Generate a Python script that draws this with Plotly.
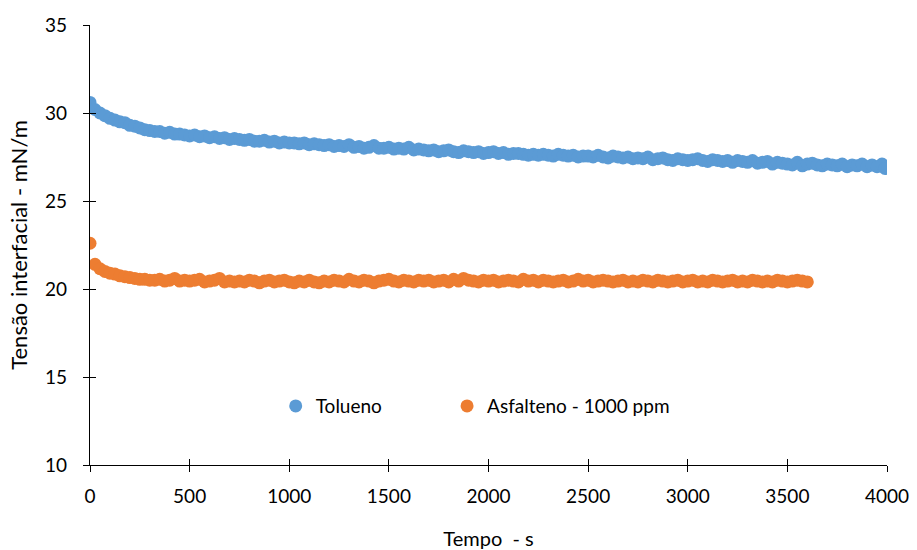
import plotly.graph_objects as go

# Sampling instants (s) – the instrument logs one reading every 25 s
t_tolueno = list(range(0, 4000, 25)) + [3990]
t_asfalteno = list(range(0, 3601, 25))

# Interfacial tension (mN/m) – pure toluene
ift_tolueno = [
    30.6, 30.2, 30.0, 29.85, 29.7, 29.6, 29.5, 29.45, 29.3, 29.25,
    29.15, 29.05, 29.0, 28.95, 28.95, 28.85, 28.9, 28.8, 28.8, 28.75,
    28.7, 28.75, 28.65, 28.7, 28.6, 28.65, 28.55, 28.6, 28.5, 28.55,
    28.5, 28.45, 28.5, 28.4, 28.4, 28.45, 28.35, 28.4, 28.3, 28.35,
    28.3, 28.3, 28.25, 28.3, 28.2, 28.25, 28.2, 28.15, 28.2, 28.1,
    28.15, 28.1, 28.2, 28.05, 28.1, 28.0, 28.05, 28.15, 28.0, 28.0,
    28.05, 27.95, 28.0, 27.95, 28.05, 27.9, 27.95, 27.9, 27.85, 27.9,
    27.8, 27.85, 27.9, 27.8, 27.75, 27.85, 27.8, 27.75, 27.8, 27.7,
    27.75, 27.8, 27.7, 27.75, 27.65, 27.7, 27.7, 27.65, 27.6, 27.65,
    27.6, 27.65, 27.6, 27.55, 27.65, 27.6, 27.55, 27.6, 27.5, 27.55,
    27.55, 27.5, 27.6, 27.5, 27.45, 27.55, 27.5, 27.45, 27.5, 27.4,
    27.45, 27.4, 27.5, 27.35, 27.4, 27.45, 27.35, 27.3, 27.4, 27.35,
    27.3, 27.35, 27.4, 27.3, 27.25, 27.35, 27.3, 27.25, 27.3, 27.2,
    27.3, 27.25, 27.2, 27.3, 27.15, 27.2, 27.25, 27.1, 27.2, 27.15,
    27.1, 27.05, 27.2, 27.0, 27.1, 27.15, 27.05, 27.0, 27.1, 27.05,
    27.0, 27.1, 26.95, 27.05, 27.0, 27.1, 26.95, 27.05, 26.95, 27.1,
    26.85,
]

# Interfacial tension (mN/m) – asphaltene solution, 1000 ppm
ift_asfalteno = [
    22.6, 21.4, 21.15, 21.0, 20.9, 20.85, 20.75, 20.7, 20.65, 20.6,
    20.55, 20.55, 20.5, 20.5, 20.55, 20.45, 20.5, 20.6, 20.45, 20.5,
    20.45, 20.5, 20.55, 20.4, 20.45, 20.5, 20.6, 20.4, 20.45, 20.4,
    20.45, 20.4, 20.5, 20.45, 20.35, 20.45, 20.5, 20.4, 20.45, 20.5,
    20.4, 20.35, 20.45, 20.4, 20.5, 20.4, 20.35, 20.45, 20.4, 20.5,
    20.45, 20.4, 20.55, 20.45, 20.4, 20.5, 20.45, 20.35, 20.45, 20.5,
    20.55, 20.45, 20.4, 20.5, 20.45, 20.4, 20.5, 20.45, 20.5, 20.4,
    20.45, 20.5, 20.4, 20.55, 20.45, 20.6, 20.5, 20.45, 20.4, 20.5,
    20.45, 20.5, 20.4, 20.45, 20.5, 20.45, 20.4, 20.55, 20.45, 20.5,
    20.4, 20.5, 20.45, 20.4, 20.45, 20.5, 20.4, 20.45, 20.55, 20.45,
    20.5, 20.4, 20.45, 20.5, 20.45, 20.4, 20.45, 20.5, 20.4, 20.45,
    20.4, 20.5, 20.45, 20.4, 20.5, 20.45, 20.4, 20.45, 20.5, 20.4,
    20.45, 20.5, 20.4, 20.45, 20.4, 20.5, 20.45, 20.4, 20.45, 20.5,
    20.4, 20.45, 20.4, 20.5, 20.45, 20.4, 20.45, 20.4, 20.5, 20.45,
    20.4, 20.45, 20.5, 20.45, 20.4,
]

x_ticks = [0, 500, 1000, 1500, 2000, 2500, 3000, 3500, 4000]
y_ticks = [10, 15, 20, 25, 30, 35]

BLUE = "#5B9BD5"
ORANGE = "#ED7D31"
FONT = "Lato"

fig = go.Figure()
fig.add_trace(go.Scatter(
    x=t_tolueno, y=ift_tolueno, mode="markers", name="Tolueno",
    marker=dict(color=BLUE, size=13, line=dict(width=0)), legend="legend",
))
fig.add_trace(go.Scatter(
    x=t_asfalteno, y=ift_asfalteno, mode="markers", name="Asfalteno - 1000 ppm",
    marker=dict(color=ORANGE, size=13, line=dict(width=0)), legend="legend2",
))

axis_common = dict(showgrid=False, zeroline=False, showline=True, automargin=False,
                   linecolor="black", linewidth=1.3, tickcolor="black",
                   tickwidth=1.3, ticklen=6)

legend_common = dict(orientation="h", yanchor="middle", xanchor="left",
                     bgcolor="rgba(0,0,0,0)", font=dict(size=19), itemwidth=30)

fig.update_layout(
    width=917, height=550,
    margin=dict(l=90, r=30, t=25, b=85),
    paper_bgcolor="white", plot_bgcolor="white",
    font=dict(family=FONT, size=19, color="black"),
    xaxis=dict(range=[0, 4000], tickvals=x_ticks, ticks="outside",
               ticklabelstandoff=8,
               title=dict(text="Tempo  - s", font=dict(size=20), standoff=30),
               **axis_common),
    yaxis=dict(range=[10, 35], tickvals=y_ticks, ticks="outside",
               ticklabelstandoff=12,
               title=dict(text="Tensão interfacial - mN/m", font=dict(size=22), standoff=11),
               **axis_common),
    # mirrored axes carrying the inner half of the crossing tick marks
    xaxis2=dict(range=[0, 4000], tickvals=x_ticks, ticks="inside", overlaying="x",
                side="bottom", showticklabels=False, **axis_common),
    yaxis2=dict(range=[10, 35], tickvals=y_ticks, ticks="inside", overlaying="y",
                side="left", showticklabels=False, **axis_common),
    showlegend=True,
    legend=dict(x=0.233, y=0.134, **legend_common),
    legend2=dict(x=0.448, y=0.134, **legend_common),
)

# invisible trace that activates the secondary axes
fig.add_trace(go.Scatter(x=[None], y=[None], xaxis="x2", yaxis="y2",
                         showlegend=False, hoverinfo="skip"))

fig.write_html("out.html")
